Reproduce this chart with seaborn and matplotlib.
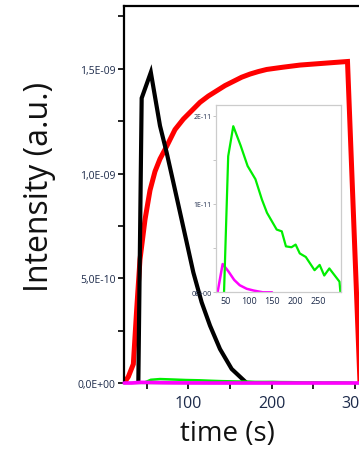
import matplotlib
matplotlib.use("Agg")
import matplotlib.pyplot as plt
import seaborn as sns
import pandas as pd
from matplotlib.ticker import MultipleLocator, FixedLocator, FixedFormatter

# ---- data ----
red_t = [23, 28, 34, 38, 42, 48, 54, 60, 66, 74, 84, 94, 104, 114, 124, 134, 144,
         154, 164, 174, 184, 194, 214, 234, 254, 274, 291, 306]
red_v = [0.0, 0.03e-9, 0.09e-9, 0.35e-9, 0.59e-9, 0.78e-9, 0.92e-9, 1.01e-9, 1.07e-9,
         1.13e-9, 1.21e-9, 1.26e-9, 1.30e-9, 1.34e-9, 1.37e-9, 1.395e-9, 1.42e-9,
         1.44e-9, 1.46e-9, 1.475e-9, 1.487e-9, 1.497e-9, 1.508e-9, 1.518e-9,
         1.524e-9, 1.53e-9, 1.535e-9, 0.0]

black_t = [40, 44, 55, 66, 74, 82, 90, 98, 106, 116, 126, 138, 152, 170]
black_v = [0.0, 1.36e-9, 1.483e-9, 1.228e-9, 1.10e-9, 0.958e-9, 0.815e-9, 0.672e-9,
           0.528e-9, 0.385e-9, 0.274e-9, 0.162e-9, 0.067e-9, 0.0]

green_t = [46, 55, 66, 82, 97, 114, 128, 139, 160, 171, 180, 192, 201, 210, 223,
           242, 253, 263, 274, 296, 298]
green_v = [0.0, 1.54e-11, 1.88e-11, 1.66e-11, 1.43e-11, 1.28e-11, 1.05e-11, 0.90e-11,
           0.71e-11, 0.69e-11, 0.52e-11, 0.51e-11, 0.54e-11, 0.44e-11, 0.40e-11,
           0.25e-11, 0.31e-11, 0.19e-11, 0.27e-11, 0.12e-11, 0.0]

magenta_t = [23, 32, 43, 55, 68, 80, 95, 110, 130, 150, 200, 250, 310, 330]
magenta_v = [0.0, 0.0, 0.32e-11, 0.24e-11, 0.14e-11, 0.08e-11, 0.04e-11, 0.02e-11,
             0.0, 0.0, 0.0, 0.0, 0.0, 0.0]

main_yticks = [0.0, 5e-10, 1e-9, 1.5e-9]
main_yticklabels = ["0,0E+00", "5,0E-10", "1,0E-09", "1,5E-09"]
main_xticks = [100, 200, 300]
inset_yticks = [0.0, 1e-11, 2e-11]
inset_yticklabels = ["0E+00", "1E-11", "2E-11"]
inset_xticks = [50, 100, 150, 200, 250]

red = pd.DataFrame({"t": red_t, "v": red_v})
black = pd.DataFrame({"t": black_t, "v": black_v})
green = pd.DataFrame({"t": green_t, "v": green_v})
magenta = pd.DataFrame({"t": magenta_t, "v": magenta_v})

sns.set_style("ticks")
plt.rcParams["font.family"] = ["Open Sans", "DejaVu Sans"]

W, H = 359, 452
fig = plt.figure(figsize=(W / 100, H / 100), dpi=100)
fig.patch.set_facecolor("white")

ax = fig.add_axes([124 / W, 68 / H, 256 / W, 377 / H])
ax.set_xlim(22.8, 330)
ax.set_ylim(0, 1.8e-9)

kw = dict(x="t", y="v", sort=False, estimator=None, ax=ax)
sns.lineplot(data=red, color="#ff0000", linewidth=3.6, **kw)
sns.lineplot(data=black, color="#000000", linewidth=3.0, **kw)
sns.lineplot(data=green, color="#00ee00", linewidth=1.8, **kw)
sns.lineplot(data=magenta, color="#ff00ff", linewidth=2.6, **kw)
for l in ax.lines:
    l.set_solid_joinstyle("miter")
ax.lines[-1].set_clip_on(False)
ax.lines[-1].set_zorder(5)

for s in ["left", "top", "right", "bottom"]:
    ax.spines[s].set_linewidth(1.6)
    ax.spines[s].set_color("black")

ax.yaxis.set_major_locator(FixedLocator(main_yticks))
ax.yaxis.set_major_formatter(FixedFormatter(main_yticklabels))
ax.yaxis.set_minor_locator(MultipleLocator(2.5e-10))
ax.xaxis.set_major_locator(FixedLocator(main_xticks))
ax.xaxis.set_minor_locator(MultipleLocator(50))
ax.tick_params(axis="both", which="both", direction="out", length=4, width=1.2, color="black")
ax.tick_params(axis="y", labelsize=7.5, pad=2, labelcolor="#1c2a4a")
ax.tick_params(axis="x", labelsize=11.5, pad=5, labelcolor="#1c2a4a")

ax.set_xlabel("time (s)", fontsize=20, color="#111111", va="center")
ax.xaxis.set_label_coords(227 / W, 1 - 434 / H, transform=fig.transFigure)
ax.set_ylabel("Intensity (a.u.)", fontsize=23, color="#111111", va="center")
ax.yaxis.set_label_coords(40 / W, 1 - 187 / H, transform=fig.transFigure)

# ---- inset ----
ins = fig.add_axes([216 / W, (H - 293.3) / H, 124.7 / W, 187.3 / H])
ins.set_xlim(28.6, 298.6)
ins.set_ylim(0, 2.12e-11)
ikw = dict(x="t", y="v", sort=False, estimator=None, ax=ins)
sns.lineplot(data=magenta[magenta["t"] <= 150], color="#ff00ff", linewidth=1.8, **ikw)
sns.lineplot(data=green, color="#00ee00", linewidth=1.6, **ikw)
for s in ["left", "top", "right", "bottom"]:
    ins.spines[s].set_linewidth(0.9)
    ins.spines[s].set_color("#cccccc")
ins.yaxis.set_major_locator(FixedLocator(inset_yticks))
ins.yaxis.set_major_formatter(FixedFormatter(inset_yticklabels))
ins.yaxis.set_minor_locator(MultipleLocator(0.5e-11))
ins.xaxis.set_major_locator(FixedLocator(inset_xticks))
ins.tick_params(axis="y", which="both", length=2, width=0.6, color="#bbbbbb",
                labelsize=5, pad=1, labelcolor="#1c2a4a")
ins.tick_params(axis="x", which="both", length=0, labelsize=6.5, pad=3, labelcolor="#1c2a4a")
ins.set_xlabel("")
ins.set_ylabel("")
ins.set_facecolor("white")

fig.savefig("out.png", dpi=100)
